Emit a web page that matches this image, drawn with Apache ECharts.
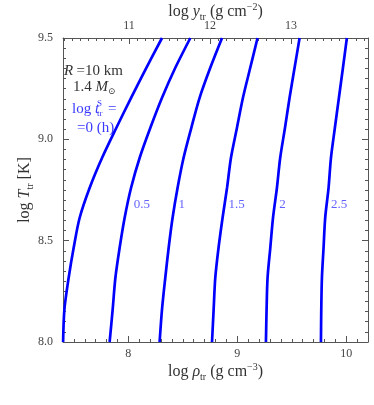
<!DOCTYPE html>
<html><head><meta charset="utf-8">
<script src="https://cdn.jsdelivr.net/npm/echarts@6/dist/echarts.min.js"></script>
<style>html,body{margin:0;padding:0;background:#fff}#c{width:374px;height:405px}</style>
</head><body><div id="c"></div>
<script>
// log T_tr levels (y) at which each curve was sampled
const tempLevels = [9.5, 9.353, 9.205, 9.057, 8.909, 8.761, 8.613, 8.465, 8.317, 8.161, 8.0];
// log rho_tr along each curve of constant log t_tr^S (h)
const rhoT00 = [8.309, 8.165, 8.025, 7.890, 7.759, 7.645, 7.553, 7.498, 7.452, 7.413, 7.401];
const rhoT05 = [8.569, 8.431, 8.309, 8.202, 8.104, 8.025, 7.966, 7.920, 7.881, 7.856, 7.828];
const rhoT10 = [8.860, 8.752, 8.654, 8.578, 8.507, 8.452, 8.406, 8.370, 8.339, 8.309, 8.287];
const rhoT15 = [9.186, 9.119, 9.052, 8.997, 8.942, 8.906, 8.865, 8.828, 8.798, 8.783, 8.768];
const rhoT20 = [9.572, 9.526, 9.480, 9.438, 9.394, 9.364, 9.328, 9.303, 9.278, 9.269, 9.263];
const rhoT25 = [10.006, 9.970, 9.933, 9.896, 9.860, 9.838, 9.807, 9.792, 9.777, 9.771, 9.768];
const curveNames = ['0', '0.5', '1', '1.5', '2', '2.5'];
// curve labels (inline)
const labelTexts = ['0.5', '1', '1.5', '2', '2.5'];
const labelRho = [8.049, 8.461, 8.920, 9.385, 9.860];
const labelT = [8.68, 8.68, 8.68, 8.68, 8.68];
// axis ticks
const rhoTicks = [8, 9, 10];
const yColTicks = [11, 12, 13];
const tempTicks = [8.0, 8.5, 9.0, 9.5];

function stepList(a, b, s) { const out = []; for (let v = a; v <= b + 1e-9; v += s) out.push(+v.toFixed(3)); return out; }
const rhoMinor = stepList(7.5, 10.2, 0.1);
const yColMinor = stepList(10.2, 13.9, 0.1);
const tempMinor = stepList(8.05, 9.45, 0.05);

const curves = [rhoT00, rhoT05, rhoT10, rhoT15, rhoT20, rhoT25];
const FONT = "'Liberation Serif','DejaVu Serif',serif";
const AX = '#555';
const BLUE = '#0000ff';
const LBLUE = '#3a3aff';

const nameRich = {
  n: {fontFamily: FONT, fontSize: 16, color: '#333', lineHeight: 20, verticalAlign: 'middle'},
  i: {fontFamily: FONT, fontSize: 16, color: '#333', fontStyle: 'italic', lineHeight: 20, verticalAlign: 'middle'},
  s: {fontFamily: FONT, fontSize: 10, color: '#333', lineHeight: 9, verticalAlign: 'bottom'},
  p: {fontFamily: FONT, fontSize: 10, color: '#333', lineHeight: 10, verticalAlign: 'top'}
};

function majorAxis(pos, min, max, ticks, showLabel, fmt, name, gap, rot) {
  return {
    type: 'value', position: pos, min: min, max: max,
    axisLine: {show: true, onZero: false, lineStyle: {color: AX, width: 1}},
    axisTick: {show: true, inside: true, length: 6, customValues: ticks, lineStyle: {color: AX, width: 1}},
    axisLabel: {show: showLabel, customValues: ticks, formatter: fmt, margin: pos === 'left' ? 10 : 6,
      color: '#444', fontFamily: FONT, fontSize: 12},
    splitLine: {show: false},
    name: name || '', nameLocation: 'middle', nameGap: gap || 0, nameRotate: rot || 0,
    nameMoveOverlap: false,
    nameTextStyle: {rich: nameRich}
  };
}
function minorAxis(pos, min, max, ticks) {
  return {
    type: 'value', position: pos, min: min, max: max,
    axisLine: {show: false, onZero: false},
    axisTick: {show: true, inside: true, length: 3, customValues: ticks, lineStyle: {color: AX, width: 1}},
    axisLabel: {show: false},
    splitLine: {show: false}
  };
}

const series = curves.map((arr, k) => ({
  type: 'line', name: curveNames[k], xAxisIndex: 0, yAxisIndex: 0,
  data: arr.map((r, j) => [r, tempLevels[j]]),
  smooth: 0.3, showSymbol: false, symbol: 'none',
  lineStyle: {color: BLUE, width: 2.7}, clip: true, silent: true
}));
series.push({
  type: 'scatter', xAxisIndex: 0, yAxisIndex: 0, symbolSize: 0, silent: true,
  data: labelTexts.map((t, k) => ({value: [labelRho[k], labelT[k]], name: t})),
  label: {show: true, position: 'right', distance: 0, formatter: p => p.name,
    color: LBLUE, fontFamily: FONT, fontSize: 13}
});

const chart = echarts.init(document.getElementById('c'), null, {renderer: 'canvas'});
chart.setOption({
  animation: false,
  backgroundColor: '#fff',
  grid: {left: 63, top: 38, right: 6, bottom: 63, containLabel: false, outerBoundsMode: 'none'},
  xAxis: [
    majorAxis('bottom', 7.4, 10.2, rhoTicks, true, v => String(v),
      '{n|log }{i|ρ}{s|tr}{n| (g cm}{p|−3}{n|)}', 20, 0),
    minorAxis('bottom', 7.4, 10.2, rhoMinor),
    majorAxis('top', 10.185, 13.95, yColTicks, true, v => String(v),
      '{n|log }{i|y}{s|tr}{n| (g cm}{p|−2}{n|)}', 16, 0),
    minorAxis('top', 10.185, 13.95, yColMinor)
  ],
  yAxis: [
    majorAxis('left', 8.0, 9.5, tempTicks, true, v => v.toFixed(1),
      '{n|log }{i|T}{s|tr}{n| [K]}', 28, 90),
    minorAxis('left', 8.0, 9.5, tempMinor),
    majorAxis('right', 8.0, 9.5, tempTicks, false, v => v.toFixed(1), '', 0, 0),
    minorAxis('right', 8.0, 9.5, tempMinor)
  ],
  series: series,
  graphic: [
    {type: 'text', left: 64, top: 64, silent: true, style: {
      text: '{i|R} {n|=10 km}',
      rich: {i: {fontFamily: FONT, fontSize: 15, fontStyle: 'italic', fill: '#333'},
             n: {fontFamily: FONT, fontSize: 15, fill: '#333'}}}},
    {type: 'text', left: 73, top: 80, silent: true, style: {
      text: '{n|1.4 }{i|M}{s|⊙}',
      rich: {i: {fontFamily: FONT, fontSize: 15, fontStyle: 'italic', fill: '#333', lineHeight: 18, verticalAlign: 'middle'},
             n: {fontFamily: FONT, fontSize: 15, fill: '#333', lineHeight: 18, verticalAlign: 'middle'},
             s: {fontFamily: FONT, fontSize: 9, fill: '#333', lineHeight: 8, verticalAlign: 'bottom'}}}},
    {type: 'text', left: 72, top: 102, silent: true, style: {
      text: '{n|log }{i|t}',
      rich: {i: {fontFamily: FONT, fontSize: 15, fontStyle: 'italic', fill: LBLUE},
             n: {fontFamily: FONT, fontSize: 15, fill: LBLUE}}}},
    {type: 'text', left: 97, top: 99, silent: true, style: {
      text: 'S', fontFamily: FONT, fontSize: 9, fill: LBLUE}},
    {type: 'text', left: 97, top: 109, silent: true, style: {
      text: 'tr', fontFamily: FONT, fontSize: 9, fill: LBLUE}},
    {type: 'text', left: 108, top: 102, silent: true, style: {
      text: '=', fontFamily: FONT, fontSize: 15, fill: LBLUE}},
    {type: 'text', left: 77, top: 121, silent: true, style: {
      text: '=0 (h)', fontFamily: FONT, fontSize: 15, fill: LBLUE}}
  ]
});
</script></body></html>
